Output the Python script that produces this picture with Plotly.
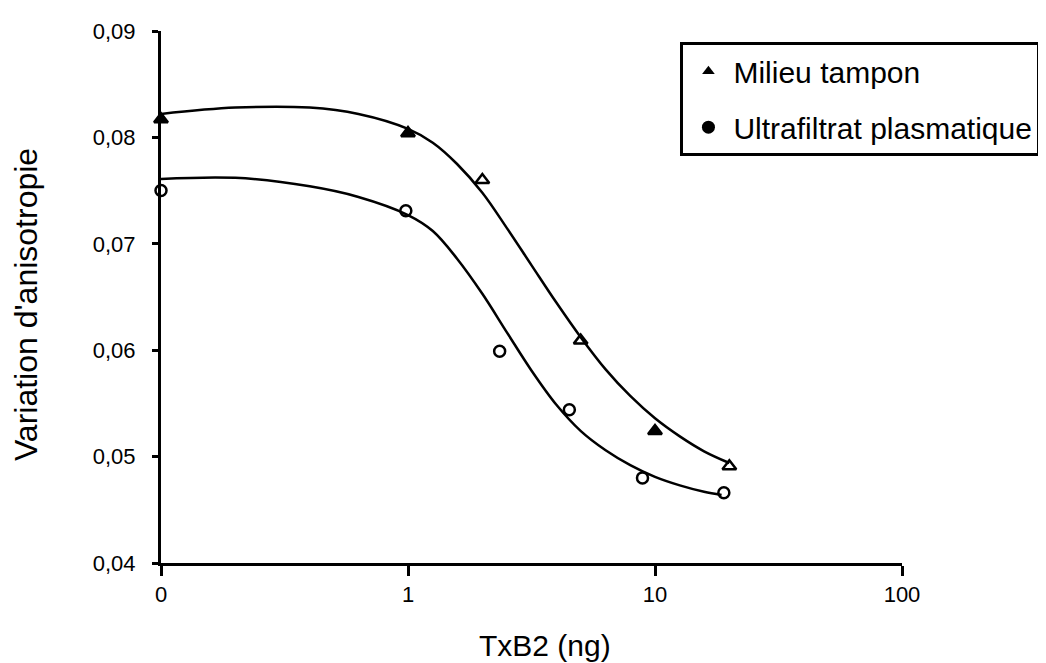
import plotly.graph_objects as go

# measured points (TxB2 in ng, 0 drawn at 0.1 on the log axis)
tampon_x = [0.1, 1.0, 2.0, 5.0, 10.0, 20.0]
tampon_y = [0.0817, 0.0804, 0.0760, 0.0609, 0.0524, 0.0491]

ultra_x = [0.1, 0.98, 2.35, 4.5, 8.9, 19.0]
ultra_y = [0.0750, 0.0731, 0.0599, 0.0544, 0.0480, 0.0466]

# fitted curves
fit_tampon_x = [0.1, 0.2, 0.4, 0.63, 1.0, 1.26, 1.58, 2.0, 2.51, 3.16, 3.98, 5.01,
                6.31, 7.94, 10.0, 12.6, 15.8, 20.0]
fit_tampon_y = [0.0822, 0.0828, 0.0828, 0.0822, 0.0808, 0.0795, 0.0775, 0.0748, 0.0715,
                0.0680, 0.0645, 0.0612, 0.0582, 0.0557, 0.0536, 0.0519, 0.0505, 0.0494]

fit_ultra_x = [0.1, 0.2, 0.4, 0.63, 1.0, 1.26, 1.58, 2.0, 2.51, 3.16, 3.98, 5.01,
               6.31, 7.94, 10.0, 12.6, 15.8, 18.6]
fit_ultra_y = [0.0761, 0.0762, 0.0754, 0.0744, 0.0727, 0.0712, 0.0686, 0.0653, 0.0617,
               0.0581, 0.0549, 0.0524, 0.0506, 0.0492, 0.0481, 0.0473, 0.0467, 0.0464]

x_ticks = [0.1, 1, 10, 100]
x_ticktext = ["0", "1", "10", "100"]
y_ticks = [0.04, 0.05, 0.06, 0.07, 0.08, 0.09]

FONT = "Liberation Sans, Arial, sans-serif"

fig = go.Figure()

fig.add_trace(go.Scatter(x=fit_tampon_x, y=fit_tampon_y, mode="lines",
                         line=dict(color="black", width=2.5, shape="spline"),
                         showlegend=False, hoverinfo="skip"))
fig.add_trace(go.Scatter(x=fit_ultra_x, y=fit_ultra_y, mode="lines",
                         line=dict(color="black", width=2.5, shape="spline"),
                         showlegend=False, hoverinfo="skip"))

fig.add_trace(go.Scatter(x=tampon_x, y=tampon_y, mode="markers", cliponaxis=False,
                         marker=dict(symbol=["triangle-up", "triangle-up", "triangle-up-open",
                                             "triangle-up-open", "triangle-up", "triangle-up-open"],
                                     size=12, color="black", line=dict(color="black", width=2.5)),
                         showlegend=False))
fig.add_trace(go.Scatter(x=ultra_x, y=ultra_y, mode="markers", cliponaxis=False,
                         marker=dict(symbol="circle-open", size=11, color="black",
                                     line=dict(color="black", width=2.5)),
                         showlegend=False))

# legend entries
fig.add_trace(go.Scatter(x=[None], y=[None], mode="markers", name="Milieu tampon",
                         legendgroup="a",
                         marker=dict(symbol="triangle-up", size=11, color="black")))
fig.add_trace(go.Scatter(x=[None], y=[None], mode="markers", name="Ultrafiltrat plasmatique",
                         legendgroup="b",
                         marker=dict(symbol="circle", size=13, color="black")))

fig.update_layout(
    width=1046, height=663,
    paper_bgcolor="white", plot_bgcolor="white",
    margin=dict(l=153, r=152, t=23, b=108, autoexpand=False),
    separators=", ",
    font=dict(family=FONT, color="black"),
    showlegend=True,
    legend=dict(x=0.701, y=0.979, xanchor="left", yanchor="top",
                bgcolor="white", bordercolor="black", borderwidth=3,
                font=dict(size=30, family=FONT, color="black"),
                tracegroupgap=14, itemwidth=40),
)

fig.update_xaxes(type="log", range=[-1, 2], tickvals=x_ticks, ticktext=x_ticktext,
                 showgrid=False, zeroline=False, showline=True, linecolor="black", linewidth=3,
                 ticks="outside", ticklen=10, tickwidth=3, tickcolor="black",
                 tickfont=dict(size=22, family=FONT, color="black"), ticklabelstandoff=0)
fig.update_yaxes(range=[0.04, 0.09], tickvals=y_ticks, tickformat=".2f",
                 showgrid=False, zeroline=False, showline=True, linecolor="black", linewidth=3,
                 ticks="outside", ticklen=6, tickwidth=3, tickcolor="black",
                 tickfont=dict(size=22, family=FONT, color="black"), ticklabelstandoff=12)

fig.add_annotation(text="Variation d'anisotropie", xref="paper", yref="paper",
                   x=-0.182, y=0.485, xanchor="center", yanchor="middle",
                   textangle=-90, showarrow=False,
                   font=dict(size=32, family=FONT, color="black"))
fig.add_annotation(text="TxB2 (ng)", xref="paper", yref="paper",
                   x=0.518, y=-0.155, xanchor="center", yanchor="middle", showarrow=False,
                   font=dict(size=30, family=FONT, color="black"))

fig.write_html("out.html")
